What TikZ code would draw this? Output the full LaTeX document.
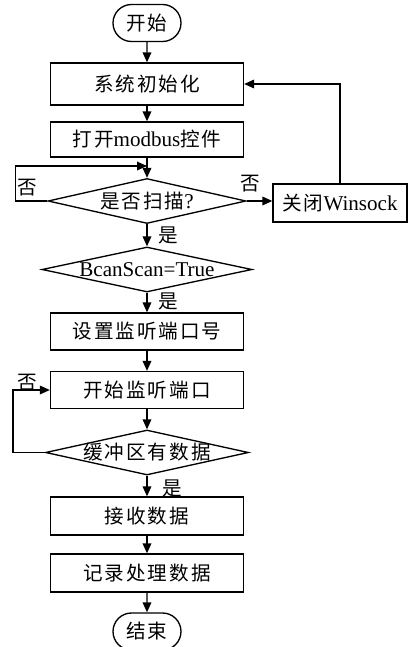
\documentclass[tikz,border=0pt]{standalone}
\usepackage{fontspec}
\setmainfont{Liberation Serif}
\newfontfamily\cjk[Scale=0.93,LetterSpace=10]{Noto Sans CJK SC}
\usetikzlibrary{shapes.geometric,shapes.misc,arrows.meta}

\tikzset{every picture/.style={line width=1pt}}
\tikzset{
  proc/.style={draw, rectangle, minimum width=144.75pt, minimum height=#1, inner sep=0pt},
  proc/.default=27.75pt,
  term/.style={draw, rounded rectangle, minimum width=51pt, minimum height=27.75pt, inner sep=0pt},
  decide/.style={draw, diamond, minimum height=33.75pt, minimum width=#1, inner sep=0pt},
  flowarr/.style={-{Triangle[length=7.5pt,width=6.5pt]}},
  every node/.style={font=\fontsize{15.8pt}{18pt}\selectfont}
}

\begin{document}
\begin{tikzpicture}[x=0.75pt,y=0.75pt,yscale=-1,xscale=1]
\useasboundingbox (0,0) rectangle (413,647);

% Flow nodes
\node [term] (start) at (147,23) {\cjk 开始};
\node [proc=31.5pt] (init) at (147,84) {\cjk 系统初始化};
\node [proc=26.25pt] (openmb) at (147,139.5) {{\cjk 打开}modbus{\cjk 控件}};
\node [decide=148.5pt] (scanq) at (147,201) {};
\node (scanqtext) at (scanq) {{\cjk 是否扫描}?};
\node [proc=28.5pt, minimum width=100.5pt] (closews) at (340,203) {{\cjk 关闭}Winsock};
\node [decide=157.5pt] (flagq) at (147,269.5) {};
\node (flagqtext) at (flagq) {BcanScan=True};
\node [proc] (setport) at (147,331.5) {\cjk 设置监听端口号};
\node [proc] (listen) at (147,390) {\cjk 开始监听端口};
\node [decide=152.25pt] (bufq) at (147,452.5) {};
\node (bufqtext) at (bufq) {\cjk 缓冲区有数据};
\node [proc=28.5pt] (recv) at (147,516) {\cjk 接收数据};
\node [proc=28.5pt] (record) at (147,573) {\cjk 记录处理数据};
\node [term] (stop) at (147,631.5) {\cjk 结束};
\coordinate (scanjoin) at (147,166);

% Connectors
\draw [flowarr] (start) -- (init);
\draw [flowarr] (init) -- (openmb);
\draw [flowarr] (openmb) -- (scanq);
\draw [flowarr] (scanq.west) -- ++(-32,0) |- (scanjoin);
\draw [flowarr] (scanq.east) -- (scanq.east -| closews.west);
\draw [flowarr] (closews.north) |- (init.east);
\draw [flowarr] (scanq) -- (flagq);
\draw [flowarr] (flagq) -- (setport);
\draw [flowarr] (setport) -- (listen);
\draw [flowarr] (listen) -- (bufq);
\draw [flowarr] (bufq.west) -- ++(-32,0) |- (listen.west);
\draw [flowarr] (bufq) -- (recv);
\draw [flowarr] (recv) -- (record);
\draw [flowarr] (record) -- (stop);

% Branch labels
\node (scanno) at (27,188) {\cjk 否};
\node (closeno) at (250,184) {\cjk 否};
\node (scanyes) at (168,235) {\cjk 是};
\node (flagyes) at (168,301) {\cjk 是};
\node (bufno) at (27,383) {\cjk 否};
\node (bufyes) at (172,488) {\cjk 是};

\end{tikzpicture}
\end{document}
